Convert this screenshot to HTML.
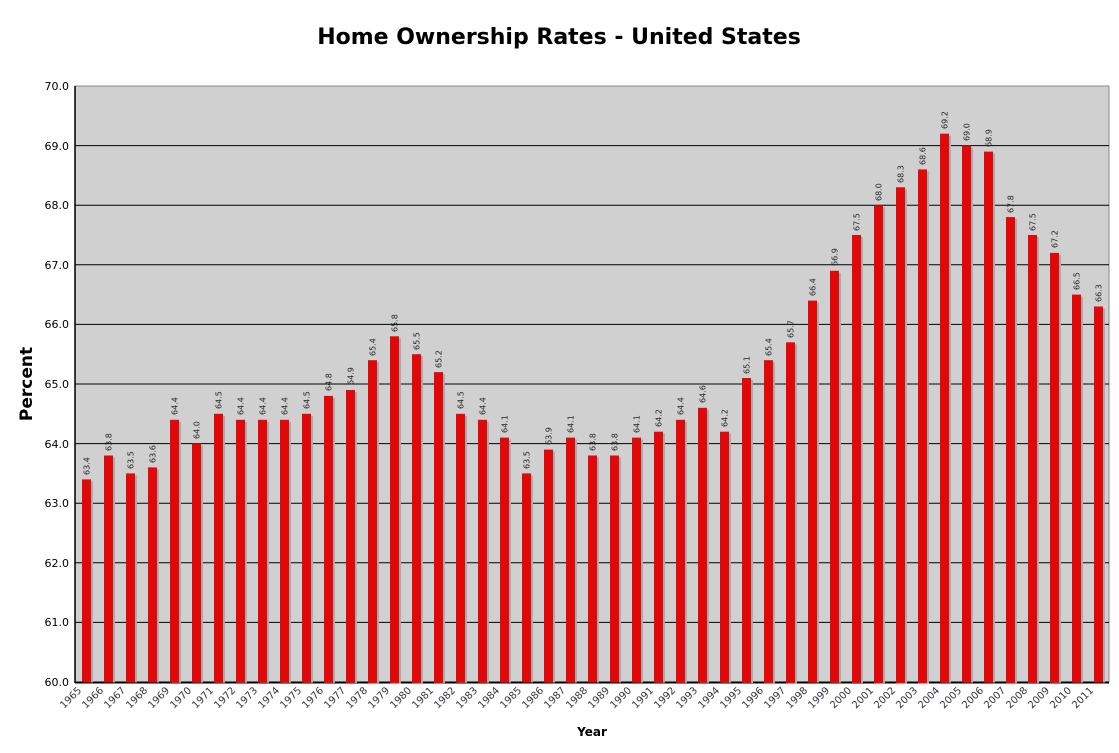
<!DOCTYPE html>
<html><head><style>body{margin:0;background:#fff}svg{display:block;font-family:"DejaVu Sans","Liberation Sans",sans-serif}</style></head><body>
<svg width="1119" height="753" xmlns="http://www.w3.org/2000/svg">
<text x="559" y="44" text-anchor="middle" font-size="22" font-weight="bold">Home Ownership Rates - United States</text>
<rect x="75" y="86" width="1034" height="596" fill="#d0d0d0" stroke="#888"/>
<g stroke="#000" stroke-width="1">
<line x1="75" x2="1109" y1="145.6" y2="145.6"/><line x1="75" x2="1109" y1="205.2" y2="205.2"/><line x1="75" x2="1109" y1="264.8" y2="264.8"/><line x1="75" x2="1109" y1="324.4" y2="324.4"/><line x1="75" x2="1109" y1="384" y2="384"/><line x1="75" x2="1109" y1="443.6" y2="443.6"/><line x1="75" x2="1109" y1="503.2" y2="503.2"/><line x1="75" x2="1109" y1="562.8" y2="562.8"/><line x1="75" x2="1109" y1="622.4" y2="622.4"/>
<line x1="75" x2="1109" y1="682.5" y2="682.5" stroke-width="2"/><line x1="75" x2="75" y1="86" y2="683" stroke-width="1.5"/>
</g>
<g font-size="11" text-anchor="end">
<text x="69" y="90">70.0</text><text x="69" y="150">69.0</text><text x="69" y="209">68.0</text><text x="69" y="269">67.0</text><text x="69" y="328">66.0</text><text x="69" y="388">65.0</text><text x="69" y="448">64.0</text><text x="69" y="507">63.0</text><text x="69" y="567">62.0</text><text x="69" y="626">61.0</text><text x="69" y="686">60.0</text>
</g>
<text transform="translate(32,384) rotate(-90)" text-anchor="middle" font-size="17" font-weight="bold">Percent</text>
<text x="592" y="736" text-anchor="middle" font-size="12" font-weight="bold">Year</text>
<g fill="#aaa">
<rect x="84" y="481.4" width="9" height="201"/><rect x="106" y="457.5" width="9" height="225"/><rect x="128" y="475.4" width="9" height="207"/><rect x="150" y="469.4" width="9" height="213"/><rect x="172" y="421.8" width="9" height="261"/><rect x="194" y="445.6" width="9" height="237"/><rect x="216" y="415.8" width="9" height="267"/><rect x="238" y="421.8" width="9" height="261"/><rect x="260" y="421.8" width="9" height="261"/><rect x="282" y="421.8" width="9" height="261"/><rect x="304" y="415.8" width="9" height="267"/><rect x="326" y="397.9" width="9" height="285"/><rect x="348" y="392" width="9" height="291"/><rect x="370" y="362.2" width="9" height="321"/><rect x="392" y="338.3" width="9" height="345"/><rect x="414" y="356.2" width="9" height="327"/><rect x="436" y="374.1" width="9" height="309"/><rect x="458" y="415.8" width="9" height="267"/><rect x="480" y="421.8" width="9" height="261"/><rect x="502" y="439.6" width="9" height="243"/><rect x="524" y="475.4" width="9" height="207"/><rect x="546" y="451.6" width="9" height="231"/><rect x="568" y="439.6" width="9" height="243"/><rect x="590" y="457.5" width="9" height="225"/><rect x="612" y="457.5" width="9" height="225"/><rect x="634" y="439.6" width="9" height="243"/><rect x="656" y="433.7" width="9" height="249"/><rect x="678" y="421.8" width="9" height="261"/><rect x="700" y="409.8" width="9" height="273"/><rect x="722" y="433.7" width="9" height="249"/><rect x="744" y="380" width="9" height="303"/><rect x="766" y="362.2" width="9" height="321"/><rect x="788" y="344.3" width="9" height="339"/><rect x="810" y="302.6" width="9" height="380"/><rect x="832" y="272.8" width="9" height="410"/><rect x="854" y="237" width="9" height="446"/><rect x="876" y="207.2" width="9" height="476"/><rect x="898" y="189.3" width="9" height="494"/><rect x="920" y="171.4" width="9" height="512"/><rect x="942" y="135.7" width="9" height="547"/><rect x="964" y="147.6" width="9" height="535"/><rect x="986" y="153.6" width="9" height="529"/><rect x="1008" y="219.1" width="9" height="464"/><rect x="1030" y="237" width="9" height="446"/><rect x="1052" y="254.9" width="9" height="428"/><rect x="1074" y="296.6" width="9" height="386"/><rect x="1096" y="308.5" width="9" height="374"/>
</g>
<g fill="#e00808">
<rect x="82" y="479.4" width="9" height="203"/><rect x="104" y="455.5" width="9" height="227"/><rect x="126" y="473.4" width="9" height="209"/><rect x="148" y="467.4" width="9" height="215"/><rect x="170" y="419.8" width="9" height="263"/><rect x="192" y="443.6" width="9" height="239"/><rect x="214" y="413.8" width="9" height="269"/><rect x="236" y="419.8" width="9" height="263"/><rect x="258" y="419.8" width="9" height="263"/><rect x="280" y="419.8" width="9" height="263"/><rect x="302" y="413.8" width="9" height="269"/><rect x="324" y="395.9" width="9" height="287"/><rect x="346" y="390" width="9" height="293"/><rect x="368" y="360.2" width="9" height="323"/><rect x="390" y="336.3" width="9" height="347"/><rect x="412" y="354.2" width="9" height="329"/><rect x="434" y="372.1" width="9" height="311"/><rect x="456" y="413.8" width="9" height="269"/><rect x="478" y="419.8" width="9" height="263"/><rect x="500" y="437.6" width="9" height="245"/><rect x="522" y="473.4" width="9" height="209"/><rect x="544" y="449.6" width="9" height="233"/><rect x="566" y="437.6" width="9" height="245"/><rect x="588" y="455.5" width="9" height="227"/><rect x="610" y="455.5" width="9" height="227"/><rect x="632" y="437.6" width="9" height="245"/><rect x="654" y="431.7" width="9" height="251"/><rect x="676" y="419.8" width="9" height="263"/><rect x="698" y="407.8" width="9" height="275"/><rect x="720" y="431.7" width="9" height="251"/><rect x="742" y="378" width="9" height="305"/><rect x="764" y="360.2" width="9" height="323"/><rect x="786" y="342.3" width="9" height="341"/><rect x="808" y="300.6" width="9" height="382"/><rect x="830" y="270.8" width="9" height="412"/><rect x="852" y="235" width="9" height="448"/><rect x="874" y="205.2" width="9" height="478"/><rect x="896" y="187.3" width="9" height="496"/><rect x="918" y="169.4" width="9" height="514"/><rect x="940" y="133.7" width="9" height="549"/><rect x="962" y="145.6" width="9" height="537"/><rect x="984" y="151.6" width="9" height="531"/><rect x="1006" y="217.1" width="9" height="466"/><rect x="1028" y="235" width="9" height="448"/><rect x="1050" y="252.9" width="9" height="430"/><rect x="1072" y="294.6" width="9" height="388"/><rect x="1094" y="306.5" width="9" height="376"/>
</g>
<g font-size="8" fill="#222">
<text transform="translate(89.5,475) rotate(-90)">63.4</text><text transform="translate(111.5,451) rotate(-90)">63.8</text><text transform="translate(133.5,469) rotate(-90)">63.5</text><text transform="translate(155.5,463) rotate(-90)">63.6</text><text transform="translate(177.5,415) rotate(-90)">64.4</text><text transform="translate(199.5,439) rotate(-90)">64.0</text><text transform="translate(221.5,409) rotate(-90)">64.5</text><text transform="translate(243.5,415) rotate(-90)">64.4</text><text transform="translate(265.5,415) rotate(-90)">64.4</text><text transform="translate(287.5,415) rotate(-90)">64.4</text><text transform="translate(309.5,409) rotate(-90)">64.5</text><text transform="translate(331.5,391) rotate(-90)">64.8</text><text transform="translate(353.5,385) rotate(-90)">64.9</text><text transform="translate(375.5,356) rotate(-90)">65.4</text><text transform="translate(397.5,332) rotate(-90)">65.8</text><text transform="translate(419.5,350) rotate(-90)">65.5</text><text transform="translate(441.5,368) rotate(-90)">65.2</text><text transform="translate(463.5,409) rotate(-90)">64.5</text><text transform="translate(485.5,415) rotate(-90)">64.4</text><text transform="translate(507.5,433) rotate(-90)">64.1</text><text transform="translate(529.5,469) rotate(-90)">63.5</text><text transform="translate(551.5,445) rotate(-90)">63.9</text><text transform="translate(573.5,433) rotate(-90)">64.1</text><text transform="translate(595.5,451) rotate(-90)">63.8</text><text transform="translate(617.5,451) rotate(-90)">63.8</text><text transform="translate(639.5,433) rotate(-90)">64.1</text><text transform="translate(661.5,427) rotate(-90)">64.2</text><text transform="translate(683.5,415) rotate(-90)">64.4</text><text transform="translate(705.5,403) rotate(-90)">64.6</text><text transform="translate(727.5,427) rotate(-90)">64.2</text><text transform="translate(749.5,374) rotate(-90)">65.1</text><text transform="translate(771.5,356) rotate(-90)">65.4</text><text transform="translate(793.5,338) rotate(-90)">65.7</text><text transform="translate(815.5,296) rotate(-90)">66.4</text><text transform="translate(837.5,266) rotate(-90)">66.9</text><text transform="translate(859.5,231) rotate(-90)">67.5</text><text transform="translate(881.5,201) rotate(-90)">68.0</text><text transform="translate(903.5,183) rotate(-90)">68.3</text><text transform="translate(925.5,165) rotate(-90)">68.6</text><text transform="translate(947.5,129) rotate(-90)">69.2</text><text transform="translate(969.5,141) rotate(-90)">69.0</text><text transform="translate(991.5,147) rotate(-90)">68.9</text><text transform="translate(1013.5,213) rotate(-90)">67.8</text><text transform="translate(1035.5,231) rotate(-90)">67.5</text><text transform="translate(1057.5,248) rotate(-90)">67.2</text><text transform="translate(1079.5,290) rotate(-90)">66.5</text><text transform="translate(1101.5,302) rotate(-90)">66.3</text>
</g>
<g font-size="10" fill="#334" text-anchor="end">
<text transform="translate(82,691) rotate(-45)">1965</text><text transform="translate(104,691) rotate(-45)">1966</text><text transform="translate(126,691) rotate(-45)">1967</text><text transform="translate(148,691) rotate(-45)">1968</text><text transform="translate(170,691) rotate(-45)">1969</text><text transform="translate(192,691) rotate(-45)">1970</text><text transform="translate(214,691) rotate(-45)">1971</text><text transform="translate(236,691) rotate(-45)">1972</text><text transform="translate(258,691) rotate(-45)">1973</text><text transform="translate(280,691) rotate(-45)">1974</text><text transform="translate(302,691) rotate(-45)">1975</text><text transform="translate(324,691) rotate(-45)">1976</text><text transform="translate(346,691) rotate(-45)">1977</text><text transform="translate(368,691) rotate(-45)">1978</text><text transform="translate(390,691) rotate(-45)">1979</text><text transform="translate(412,691) rotate(-45)">1980</text><text transform="translate(434,691) rotate(-45)">1981</text><text transform="translate(456,691) rotate(-45)">1982</text><text transform="translate(478,691) rotate(-45)">1983</text><text transform="translate(500,691) rotate(-45)">1984</text><text transform="translate(522,691) rotate(-45)">1985</text><text transform="translate(544,691) rotate(-45)">1986</text><text transform="translate(566,691) rotate(-45)">1987</text><text transform="translate(588,691) rotate(-45)">1988</text><text transform="translate(610,691) rotate(-45)">1989</text><text transform="translate(632,691) rotate(-45)">1990</text><text transform="translate(654,691) rotate(-45)">1991</text><text transform="translate(676,691) rotate(-45)">1992</text><text transform="translate(698,691) rotate(-45)">1993</text><text transform="translate(720,691) rotate(-45)">1994</text><text transform="translate(742,691) rotate(-45)">1995</text><text transform="translate(764,691) rotate(-45)">1996</text><text transform="translate(786,691) rotate(-45)">1997</text><text transform="translate(808,691) rotate(-45)">1998</text><text transform="translate(830,691) rotate(-45)">1999</text><text transform="translate(852,691) rotate(-45)">2000</text><text transform="translate(874,691) rotate(-45)">2001</text><text transform="translate(896,691) rotate(-45)">2002</text><text transform="translate(918,691) rotate(-45)">2003</text><text transform="translate(940,691) rotate(-45)">2004</text><text transform="translate(962,691) rotate(-45)">2005</text><text transform="translate(984,691) rotate(-45)">2006</text><text transform="translate(1006,691) rotate(-45)">2007</text><text transform="translate(1028,691) rotate(-45)">2008</text><text transform="translate(1050,691) rotate(-45)">2009</text><text transform="translate(1072,691) rotate(-45)">2010</text><text transform="translate(1094,691) rotate(-45)">2011</text>
</g>
</svg>
</body></html>
